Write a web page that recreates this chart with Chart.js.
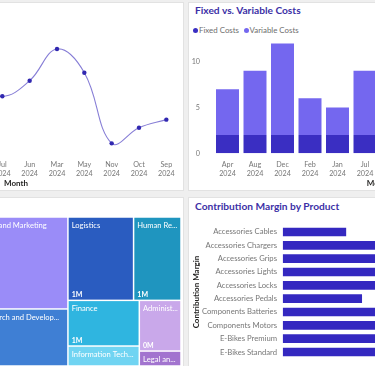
<!DOCTYPE html>
<html>
<head>
<meta charset="utf-8">
<script src="https://cdn.jsdelivr.net/npm/chart.js@4.4.1/dist/chart.umd.min.js"></script>
<style>
  html, body { margin: 0; padding: 0; }
  body { width: 375px; height: 366px; overflow: hidden; position: relative; background: #efefef; font-family: Lato, 'Open Sans', sans-serif; }
  .panel { position: absolute; background: #fff; border: 1px solid #e2e2e2; box-sizing: border-box; }
  canvas { position: absolute; }
  .title { position: absolute; font-weight: 700; font-size: 10.2px; line-height: 12px; color: #3c30a6; white-space: nowrap; }
  .legend { position: absolute; font-size: 7.9px; line-height: 10px; color: #6e6e6e; white-space: nowrap; display: flex; align-items: center; }
  .legend .dot { display: inline-block; width: 5px; height: 5px; border-radius: 50%; margin-right: 1px; }
  .legend .item { display: flex; align-items: center; margin-right: 4.5px; }
</style>
</head>
<body>
<div class="panel" style="left:-210px; top:2px; width:394px; height:189px;"></div>
<div class="panel" style="left:188px; top:2px; width:300px; height:189px;"></div>
<div class="panel" style="left:-210px; top:197px; width:394px; height:200px;"></div>
<div class="panel" style="left:188px; top:197px; width:300px; height:200px;"></div>

<canvas id="profitChart" width="336" height="181" style="left:-152px; top:10px;"></canvas>

<div class="title" style="left:195px; top:4px;">Fixed vs. Variable Costs</div>
<div class="legend" style="left:193px; top:25px;">
  <span class="item"><span class="dot" style="background:#3a2ec2"></span>Fixed Costs</span>
  <span class="item"><span class="dot" style="background:#7467ef"></span>Variable Costs</span>
</div>
<canvas id="costChart" width="358" height="171" style="left:188px; top:20px;"></canvas>

<canvas id="deptTreemap" width="205" height="149" style="left:-24px; top:217px;"></canvas>

<div class="title" style="left:195px; top:200px;">Contribution Margin by Product</div>
<canvas id="marginChart" width="352" height="156" style="left:188px; top:214px;"></canvas>

<script>
// months (sorted alphabetically, as in the report)
const months = ['Apr', 'Aug', 'Dec', 'Feb', 'Jan', 'Jul', 'Jun', 'Mar', 'May', 'Nov', 'Oct', 'Sep'];
const year = '2024';
const monthlyProfit = [5.2, 6.8, 8.6, 3.9, 5.4, 4.29, 5.46, 7.84, 6.06, 0.75, 1.92, 2.53];

const fixedCosts = [2, 2, 2, 2, 2, 2, 2, 2, 2, 2, 2, 2];
const variableCosts = [5, 7, 10, 4, 3, 7, 6, 8, 7, 3, 4, 5];
const costTicks = [0, 5, 10];

const departments = ['Sales and Marketing', 'Research and Development', 'Logistics', 'Human Resources',
  'Finance', 'Information Technology', 'Administration', 'Legal and Compliance'];
const departmentCosts = [1696000, 1052000, 1098000, 793000, 654000, 286000, 424000, 125000];
const departmentColors = ['#9a8cf8', '#3f7fd4', '#2a5cc0', '#1f95bf', '#2fb5e0', '#70d4f2', '#c9a8ea', '#a274cf'];

const products = ['Accessories Cables', 'Accessories Chargers', 'Accessories Grips', 'Accessories Lights',
  'Accessories Locks', 'Accessories Pedals', 'Components Batteries', 'Components Motors',
  'E-Bikes Premium', 'E-Bikes Standard'];
const contributionMargin = [14.8, 32, 28, 36, 30, 18.5, 45, 41, 52, 47];

Chart.defaults.font.family = "Lato, 'Open Sans', sans-serif";
Chart.defaults.animation = false;

const tickFont = { size: 7.2, lineHeight: 1.25 };
const tickColor = '#777';
const axisTitle = { size: 8, weight: 'bold' };
const monthLabels = months.map(m => [m, year]);

new Chart(document.getElementById('profitChart'), {
  type: 'line',
  data: {
    labels: monthLabels,
    datasets: [{
      data: monthlyProfit,
      borderColor: '#877ed6',
      borderWidth: 1.1,
      tension: 0.4,
      pointRadius: 2.2,
      pointBorderWidth: 0,
      pointBackgroundColor: '#3128b0',
      fill: false
    }]
  },
  options: {
    responsive: false,
    layout: { padding: { left: 1.8, right: 2.2, top: 10.3, bottom: 0 } },
    plugins: { legend: { display: false }, tooltip: { enabled: false } },
    scales: {
      x: {
        offset: true,
        grid: { display: false, drawTicks: false },
        border: { display: false },
        ticks: { color: tickColor, font: tickFont, padding: 7.2, maxRotation: 0, autoSkip: false },
        title: { display: true, text: 'Month', color: '#252423', font: axisTitle, padding: { top: 0, bottom: 2.5 } },
        afterFit: s => { s.height = 37.7; }
      },
      y: { display: false, min: 0, max: 10 }
    }
  }
});

new Chart(document.getElementById('costChart'), {
  type: 'bar',
  data: {
    labels: monthLabels,
    datasets: [
      { label: 'Fixed Costs', data: fixedCosts, backgroundColor: '#3a2ec2' },
      { label: 'Variable Costs', data: variableCosts, backgroundColor: '#7467ef' }
    ]
  },
  options: {
    responsive: false,
    layout: { padding: { left: 0, right: 2.25, top: 18.8, bottom: 0 } },
    datasets: { bar: { barPercentage: 0.836, categoryPercentage: 1 } },
    plugins: { legend: { display: false }, tooltip: { enabled: false } },
    scales: {
      x: {
        stacked: true,
        grid: { display: false, drawTicks: false },
        border: { display: false },
        ticks: { color: tickColor, font: tickFont, padding: 7.2, maxRotation: 0, autoSkip: false },
        title: { display: true, text: 'Month', color: '#252423', font: axisTitle, padding: { top: 0, bottom: 2.5 } },
        afterFit: s => { s.height = 37.7; }
      },
      y: {
        stacked: true,
        min: 0,
        max: 12.5,
        grid: { display: false, drawTicks: false },
        border: { display: false },
        ticks: { stepSize: 5, color: tickColor, font: tickFont, padding: 13.75,
          callback: v => costTicks.includes(v) ? v : '' },
        afterFit: s => { s.width = 25.75; }
      }
    }
  }
});

// squarified layout (d3 style, with an aspect ratio target)
function squarify(values, x0, y0, x1, y1, ratio) {
  const out = [];
  const n = values.length;
  let i0 = 0, i1 = 0;
  let value = values.reduce((a, b) => a + b, 0);
  while (i0 < n) {
    const dx = x1 - x0, dy = y1 - y0;
    let sum = values[i1++], minV = sum, maxV = sum;
    const alpha = Math.max(dy / dx, dx / dy) / (value * ratio);
    let beta = sum * sum * alpha;
    let minRatio = Math.max(maxV / beta, beta / minV);
    for (; i1 < n; ++i1) {
      const v = values[i1];
      sum += v;
      const mn = Math.min(minV, v), mx = Math.max(maxV, v);
      beta = sum * sum * alpha;
      const r = Math.max(mx / beta, beta / mn);
      if (r > minRatio) { sum -= v; break; }
      minRatio = r; minV = mn; maxV = mx;
    }
    if (dx < dy) {
      const h = dy * sum / value;
      let cx = x0;
      for (let i = i0; i < i1; i++) {
        const w = dx * values[i] / sum;
        out[i] = [cx, y0, cx + w, y0 + h];
        cx += w;
      }
      y0 += h;
    } else {
      const w = dx * sum / value;
      let cy = y0;
      for (let i = i0; i < i1; i++) {
        const h = dy * values[i] / sum;
        out[i] = [x0, cy, x0 + w, cy + h];
        cy += h;
      }
      x0 += w;
    }
    value -= sum;
    i0 = i1;
  }
  return out;
}

function fitText(ctx, text, maxW) {
  if (ctx.measureText(text).width <= maxW) return text;
  let t = text;
  while (t.length > 1 && ctx.measureText(t + '...').width > maxW) t = t.slice(0, -1);
  return t.trimEnd() + '...';
}

const treemapCells = {
  id: 'treemapCells',
  afterDatasetsDraw(chart) {
    const { ctx, chartArea: a, scales: { x, y } } = chart;
    const rects = squarify(departmentCosts, 0, 0, a.width, a.height, 1.7);
    const gap = 0.75;
    rects.forEach((r, i) => {
      const l = x.getPixelForValue(r[0] / a.width) + gap;
      const rt = x.getPixelForValue(r[2] / a.width) - gap;
      const t = y.getPixelForValue(r[1] / a.height) + gap;
      const b = y.getPixelForValue(r[3] / a.height) - gap;
      ctx.save();
      ctx.fillStyle = departmentColors[i];
      ctx.fillRect(l, t, rt - l, b - t);
      ctx.beginPath();
      ctx.rect(l, t, rt - l, b - t);
      ctx.clip();
      ctx.fillStyle = '#fff';
      ctx.font = "7.6px Lato, 'Open Sans', sans-serif";
      ctx.textBaseline = 'top';
      ctx.fillText(fitText(ctx, departments[i], rt - l - 5), l + 3, t + 3.9);
      if (b - t > 30) {
        ctx.font = "bold 7px Lato, 'Open Sans', sans-serif";
        ctx.textBaseline = 'alphabetic';
        ctx.fillText(Math.round(departmentCosts[i] / 1e6) + 'M', l + 3, b - 2.5);
      }
      ctx.restore();
    });
  }
};

new Chart(document.getElementById('deptTreemap'), {
  type: 'scatter',
  data: { datasets: [{ data: [] }] },
  options: {
    responsive: false,
    plugins: { legend: { display: false }, tooltip: { enabled: false } },
    scales: {
      x: { type: 'linear', min: 0, max: 1, display: false },
      y: { type: 'linear', min: 0, max: 1, reverse: true, display: false }
    }
  },
  plugins: [treemapCells]
});

new Chart(document.getElementById('marginChart'), {
  type: 'bar',
  data: {
    labels: products,
    datasets: [{ data: contributionMargin, backgroundColor: '#3428c0' }]
  },
  options: {
    indexAxis: 'y',
    responsive: false,
    layout: { padding: { left: 0, right: 0, top: 11.3, bottom: 11.3 } },
    datasets: { bar: { barPercentage: 0.65, categoryPercentage: 1 } },
    plugins: { legend: { display: false }, tooltip: { enabled: false } },
    scales: {
      x: { display: false, min: 0, max: 60 },
      y: {
        grid: { display: false, drawTicks: false },
        border: { display: false },
        ticks: { color: tickColor, font: { size: 7.7 }, padding: 5.7, autoSkip: false },
        title: { display: true, text: 'Contribution Margin', color: '#252423', font: axisTitle, padding: { top: 3.9, bottom: 0 } },
        afterFit: s => { s.width = 94.7; }
      }
    }
  }
});
</script>
</body>
</html>
